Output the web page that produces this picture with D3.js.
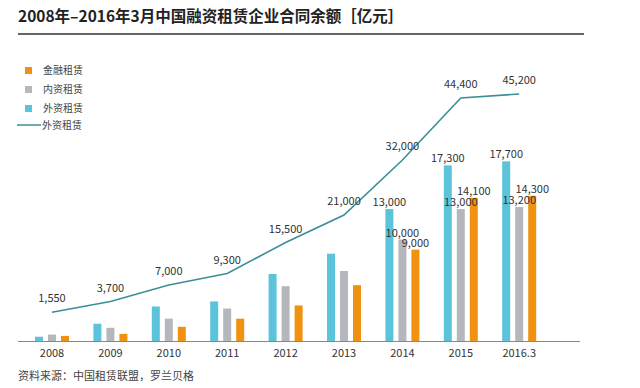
<!DOCTYPE html>
<html>
<head>
<meta charset="utf-8">
<script src="https://cdn.jsdelivr.net/npm/d3@7"></script>
<style>
  body { margin: 0; background: #fff; }
  svg { display: block; font-family: "Noto Sans CJK SC", "Noto Sans", sans-serif; }
</style>
</head>
<body>
<script>
var years = ["2008", "2009", "2010", "2011", "2012", "2013", "2014", "2015", "2016.3"];
var totalLine = [1550, 3700, 7000, 9300, 15500, 21000, 32000, 44400, 45200];
var waiziBars = [420, 1700, 3400, 3900, 6600, 8600, 13000, 17300, 17700];
var neiziBars = [630, 1300, 2200, 3200, 5400, 6900, 10000, 13000, 13200];
var jinrongBars = [500, 700, 1400, 2200, 3500, 5500, 9000, 14100, 14300];
var labeledYears = ["2014", "2015", "2016.3"];

var series = [
    {key: "waizi", name: "外资租赁", color: "#5bc3da", values: waiziBars},
    {key: "neizi", name: "内资租赁", color: "#b4b7bc", values: neiziBars},
    {key: "jinrong", name: "金融租赁", color: "#f0920f", values: jinrongBars}
];

var width = 640, height = 388;
var lineColor = "#3b8f98";

var svg = d3.select("body").append("svg")
    .attr("width", width)
    .attr("height", height);

// title
svg.append("text")
    .attr("x", 18).attr("y", 22)
    .attr("font-size", 15.5).attr("font-weight", "bold")
    .attr("fill", "#222")
    .text("2008年–2016年3月中国融资租赁企业合同余额［亿元］");
svg.append("line")
    .attr("x1", 18).attr("x2", 584)
    .attr("y1", 34).attr("y2", 34)
    .attr("stroke", "#666").attr("stroke-width", 2);

var x = d3.scaleBand()
    .domain(years)
    .range([22.8, 548.4])
    .paddingInner(0).paddingOuter(0);

var xSub = d3.scaleBand()
    .domain(series.map(function(s){ return s.key; }))
    .range([-19.5, 19.5])
    .paddingInner(0.385)
    .paddingOuter(0.1923);

var yBar = d3.scaleLinear().domain([0, 20000]).range([341, 138]);
var yLine = d3.scaleLinear().domain([0, 50000]).range([320, 70]);

function cx(year) { return x(year) + x.bandwidth() / 2; }

// bars
var groups = svg.selectAll("g.group")
    .data(years)
    .enter()
    .append("g")
    .attr("class", "group")
    .attr("transform", function(d){ return "translate(" + cx(d) + ",0)"; });

series.forEach(function(s) {
    groups.append("rect")
        .attr("x", xSub(s.key))
        .attr("width", xSub.bandwidth())
        .attr("y", function(d, i){ return yBar(s.values[i]); })
        .attr("height", function(d, i){ return yBar(0) - yBar(s.values[i]); })
        .attr("fill", s.color);
});

// bar value labels
series.forEach(function(s) {
    groups.filter(function(d){ return labeledYears.indexOf(d) >= 0; })
        .append("text")
        .attr("x", xSub(s.key) + xSub.bandwidth() / 2)
        .attr("y", function(d){ return yBar(s.values[years.indexOf(d)]) - 3; })
        .attr("text-anchor", "middle")
        .attr("font-size", 11)
        .attr("fill", "#333")
        .text(function(d){ return d3.format(",")(s.values[years.indexOf(d)]); });
});

// x axis
var xAxis = d3.axisBottom(x).tickSize(0).tickPadding(8);
var axisG = svg.append("g")
    .attr("transform", "translate(0," + yBar(0) + ")")
    .call(xAxis);
axisG.select(".domain").remove();
axisG.selectAll("text")
    .attr("font-size", 11)
    .attr("fill", "#333")
    .attr("font-family", "\"Noto Sans CJK SC\", sans-serif");
svg.append("line")
    .attr("x1", 18).attr("x2", 580)
    .attr("y1", yBar(0) + 0.5).attr("y2", yBar(0) + 0.5)
    .attr("stroke", "#888").attr("stroke-width", 1);

// total line
var line = d3.line()
    .x(function(d, i){ return cx(years[i]); })
    .y(function(d){ return yLine(d); });

svg.append("path")
    .datum(totalLine)
    .attr("d", line)
    .attr("fill", "none")
    .attr("stroke", lineColor)
    .attr("stroke-width", 1.6);

svg.selectAll("text.lineLabel")
    .data(totalLine)
    .enter()
    .append("text")
    .attr("class", "lineLabel")
    .attr("x", function(d, i){ return cx(years[i]); })
    .attr("y", function(d){ return yLine(d) - 10; })
    .attr("text-anchor", "middle")
    .attr("font-size", 11)
    .attr("fill", "#333")
    .text(function(d){ return d3.format(",")(d); });

// legend
var legendItems = [series[2], series[1], series[0]];
var legend = svg.append("g");
legendItems.forEach(function(s, i) {
    legend.append("rect")
        .attr("x", 25).attr("y", 67 + i * 19)
        .attr("width", 7).attr("height", 7)
        .attr("fill", s.color);
    legend.append("text")
        .attr("x", 43).attr("y", 74 + i * 19)
        .attr("font-size", 10)
        .attr("fill", "#444")
        .text(s.name);
});
legend.append("line")
    .attr("x1", 17).attr("x2", 41)
    .attr("y1", 125).attr("y2", 125)
    .attr("stroke", lineColor).attr("stroke-width", 1.5);
legend.append("text")
    .attr("x", 42).attr("y", 129)
    .attr("font-size", 10)
    .attr("fill", "#444")
    .text("外资租赁");

// source
svg.append("text")
    .attr("x", 18).attr("y", 380)
    .attr("font-size", 11)
    .attr("fill", "#444")
    .text("资料来源：中国租赁联盟，罗兰贝格");
</script>
</body>
</html>
